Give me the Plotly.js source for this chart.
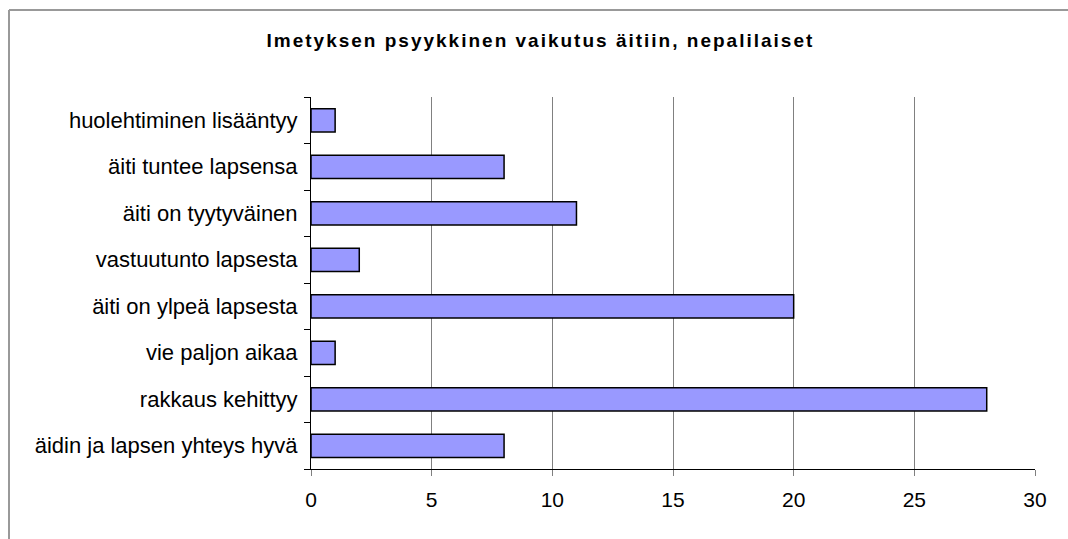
<!DOCTYPE html>
<html>
<head>
<meta charset="utf-8">
<script src="https://cdn.plot.ly/plotly-3.0.1.min.js"></script>
<style>
  html, body { margin: 0; padding: 0; background: #fff; }
  #chart { width: 1068px; height: 539px; }
  .gtitle { letter-spacing: 2px; }
</style>
</head>
<body>
<div id="chart"></div>
<script>
// Data (bottom to top, as drawn)
const categories = [
  "äidin ja lapsen yhteys hyvä",
  "rakkaus kehittyy",
  "vie paljon aikaa",
  "äiti on ylpeä lapsesta",
  "vastuutunto lapsesta",
  "äiti on tyytyväinen",
  "äiti tuntee lapsensa",
  "huolehtiminen lisääntyy"
];
const values = [8, 28, 1, 20, 2, 11, 8, 1];
const xTickValues = [0, 5, 10, 15, 20, 25, 30];
const chartTitle = "Imetyksen psyykkinen vaikutus äitiin, nepalilaiset";

const W = 1068, H = 539;
const margin = { l: 311, r: 33, t: 97, b: 70 };
const pw = W - margin.l - margin.r;
const ph = H - margin.t - margin.b;
// chart frame (top and left edges visible)
const frameX = 9, frameY = 10;
const px = v => (v - margin.l) / pw;
const py = v => (H - margin.b - v) / ph;

const font = "Liberation Sans, Arial, sans-serif";

const trace = {
  type: "bar",
  orientation: "h",
  y: categories,
  x: values,
  marker: { color: "#9999FF", line: { color: "#000000", width: 1.5 } },
  hoverinfo: "x+y"
};

const layout = {
  width: W, height: H,
  margin: margin,
  paper_bgcolor: "#ffffff",
  plot_bgcolor: "#ffffff",
  showlegend: false,
  bargap: 0.5,
  title: {
    text: "<b>" + chartTitle + "</b>",
    font: { family: font, size: 19, color: "#000000" },
    xref: "container", yref: "container",
    x: 0.506, xanchor: "center",
    y: 1 - 40 / H, yanchor: "middle"
  },
  xaxis: {
    range: [0, 30],
    tickvals: xTickValues,
    ticktext: xTickValues.map(String),
    showgrid: true, gridcolor: "#808080", gridwidth: 1,
    zeroline: false,
    showline: true, linecolor: "#000000", linewidth: 1,
    ticks: "outside", ticklen: 6, tickcolor: "#808080", tickwidth: 1,
    tickfont: { family: font, size: 21, color: "#000000" },
    ticklabelstandoff: 6,
    fixedrange: true
  },
  yaxis: {
    type: "category",
    categoryorder: "array",
    categoryarray: categories,
    tickson: "boundaries",
    ticks: "outside", ticklen: 6, tickcolor: "#000000", tickwidth: 1,
    showgrid: false, zeroline: false,
    showline: true, linecolor: "#000000", linewidth: 1,
    tickfont: { family: font, size: 22, color: "#000000" },
    ticklabelstandoff: 8,
    fixedrange: true
  },
  shapes: [
    { type: "line", xref: "paper", yref: "paper", layer: "below",
      x0: px(frameX), x1: px(W + 5), y0: py(frameY), y1: py(frameY),
      line: { color: "#999999", width: 2 } },
    { type: "line", xref: "paper", yref: "paper", layer: "below",
      x0: px(frameX), x1: px(frameX), y0: py(frameY), y1: py(H + 5),
      line: { color: "#999999", width: 2 } }
  ]
};

Plotly.newPlot("chart", [trace], layout, { displayModeBar: false, staticPlot: true });
</script>
</body>
</html>
